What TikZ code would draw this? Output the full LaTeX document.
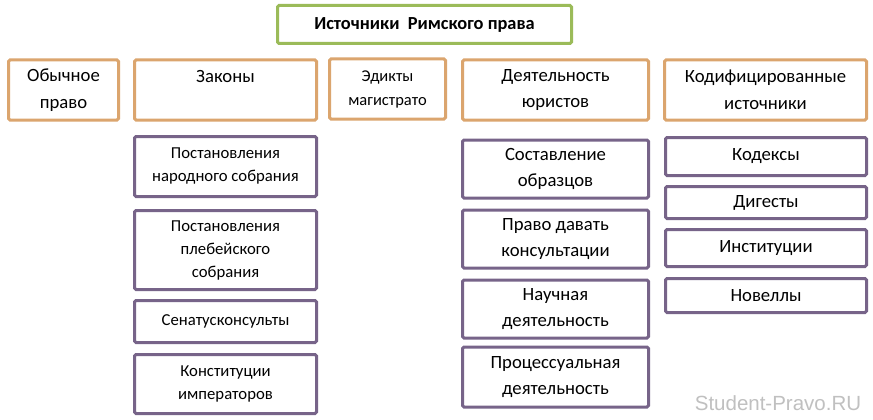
\documentclass[tikz,border=0pt]{standalone}
\usepackage{fontspec}
\setmainfont{Carlito}
\newfontfamily\wmfont{Liberation Sans}
\usetikzlibrary{positioning}

\definecolor{titlegreen}{RGB}{155,187,89}
\definecolor{boxorange}{RGB}{219,165,110}
\definecolor{boxpurple}{RGB}{119,100,137}
\definecolor{wmgray}{RGB}{192,192,192}

\begin{document}
\begin{tikzpicture}[x=1pt,y=-1pt]
	\tikzset{box/.style = {shape=rectangle,draw,line width=3pt,rounded corners=1.5pt,
			align=center,inner sep=0pt,font=\fontsize{18.7}{26.5}\selectfont}}
	\tikzset{titlebox/.style = {box,draw=titlegreen,font=\fontsize{18.4}{24}\selectfont\bfseries}}
	\tikzset{kindbox/.style = {box,draw=boxorange,minimum height=60pt}}
	\tikzset{itembox/.style = {box,draw=boxpurple}}
	\tikzset{lawbox/.style = {itembox,minimum width=182pt,font=\fontsize{16.7}{23}\selectfont}}
	
	\useasboundingbox[fill=white] (0,0) rectangle (873,420);
	
	% title
	\node[titlebox,minimum width=294pt,minimum height=38pt] (root) at (424.5,24.5) {Источники\ \ Римского права};
	
	% kinds of sources
	\node[kindbox,minimum width=110pt] (custom) at (63.5,90) {Обычное\\право};
	\node[kindbox,minimum width=182pt] (laws) at (225.5,90) {Законы\\\mbox{}};
	\node[kindbox,minimum width=116pt,font=\fontsize{16.5}{24}\selectfont] (edicts) at (387.5,89) {Эдикты\\магистрато};
	\node[kindbox,minimum width=186pt] (jurists) at (555.5,90) {Деятельность\\юристов};
	\node[kindbox,minimum width=202pt] (codified) at (765.5,90) {Кодифицированные\\источники};
	
	% laws
	\node[lawbox,minimum height=60pt] (popular) at (225.5,166.5) {Постановления\\народного собрания};
	\node[lawbox,minimum height=79pt] (plebs) at (225.5,250) {Постановления\\плебейского\\собрания};
	\node[lawbox,minimum height=42pt] (senate) at (225.5,321.5) {Сенатусконсульты};
	\node[lawbox,minimum height=59pt] (emperors) at (225.5,384) {Конституции\\императоров};
	
	% jurists
	\node[itembox,minimum width=186pt,minimum height=58pt] (drafting) at (555.5,169) {Составление\\образцов};
	\node[itembox,minimum width=186pt,minimum height=58pt] (advice) at (555.5,239) {Право давать\\консультации};
	\node[itembox,minimum width=186pt,minimum height=58pt] (science) at (555.5,309) {Научная\\деятельность};
	\node[itembox,minimum width=186pt,minimum height=60pt] (process) at (555.5,377) {Процессуальная\\деятельность};
	
	% codified sources
	\node[itembox,minimum width=201pt,minimum height=38pt] (codes) at (766,156.5) {Кодексы};
	\node[itembox,minimum width=201pt,minimum height=32pt] (digests) at (766,202.5) {Дигесты};
	\node[itembox,minimum width=201pt,minimum height=37pt] (institutes) at (766,248) {Институции};
	\node[itembox,minimum width=201pt,minimum height=34pt] (novels) at (766,295.5) {Новеллы};
	
	\node[text=wmgray,font=\wmfont\fontsize{20.5}{22}\selectfont] (mark) at (778,403) {Student-Pravo.RU};
	
\end{tikzpicture}
\end{document}
